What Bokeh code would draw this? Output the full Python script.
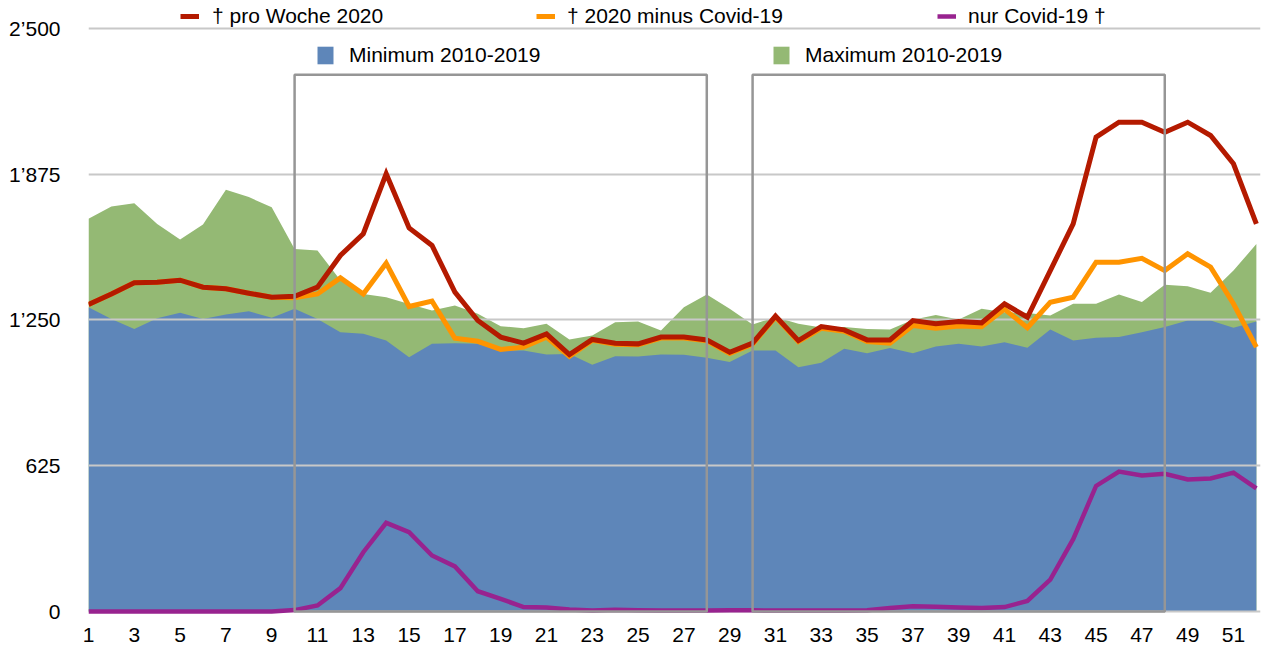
from bokeh.plotting import figure
from bokeh.models import Range1d, FixedTicker, Legend, LegendItem
from bokeh.embed import file_html
from bokeh.resources import INLINE

# ---------------- data ----------------
weeks = list(range(1, 53))
tick_weeks = list(range(1, 52, 2))

deaths_2020 = [1316, 1361, 1409, 1411, 1420, 1390, 1383, 1364, 1347, 1351,
               1390, 1526, 1619, 1876, 1644, 1569, 1369, 1247, 1176, 1150,
               1190, 1101, 1166, 1150, 1147, 1176, 1176, 1164, 1111, 1150,
               1266, 1161, 1221, 1207, 1164, 1164, 1247, 1233, 1243, 1237,
               1319, 1261, 1461, 1661, 2033, 2097, 2097, 2054, 2097, 2040,
               1919, 1661]

deaths_minus_covid = [1316, 1361, 1409, 1411, 1420, 1390, 1383, 1364, 1347, 1345,
                      1361, 1430, 1361, 1493, 1307, 1330, 1171, 1158, 1123, 1133,
                      1176, 1094, 1162, 1145, 1143, 1172, 1172, 1160, 1106, 1146,
                      1262, 1157, 1214, 1201, 1157, 1150, 1226, 1214, 1224, 1221,
                      1296, 1216, 1325, 1347, 1497, 1497, 1514, 1461, 1533, 1476,
                      1319, 1133]

covid_only = [0, 0, 0, 0, 0, 0, 0, 0, 0, 6,
              26, 100, 254, 380, 340, 240, 193, 87, 54, 19,
              17, 9, 4, 7, 5, 4, 4, 4, 5, 5,
              4, 4, 4, 4, 5, 15, 22, 20, 17, 15,
              19, 45, 137, 310, 538, 600, 583, 590, 566, 570,
              595, 528]

min_2010_2019 = [1304, 1254, 1211, 1257, 1280, 1254, 1273, 1287, 1259, 1297,
                 1254, 1197, 1190, 1161, 1090, 1147, 1150, 1147, 1119, 1119,
                 1101, 1104, 1057, 1094, 1093, 1101, 1100, 1087, 1069, 1119,
                 1119, 1047, 1066, 1126, 1107, 1129, 1107, 1136, 1147, 1136,
                 1154, 1130, 1209, 1161, 1173, 1176, 1197, 1219, 1247, 1247,
                 1216, 1243]

max_2010_2019 = [1683, 1736, 1750, 1661, 1594, 1659, 1807, 1776, 1733, 1554,
                 1547, 1420, 1361, 1347, 1318, 1290, 1311, 1276, 1223, 1214,
                 1233, 1166, 1183, 1240, 1243, 1204, 1304, 1359, 1297, 1230,
                 1262, 1233, 1217, 1219, 1211, 1209, 1250, 1271, 1251, 1297,
                 1283, 1279, 1269, 1319, 1319, 1359, 1326, 1400, 1394, 1366,
                 1461, 1575]

y_ticks = [0, 625, 1250, 1875, 2500]
y_tick_labels = ["0", "625", "1\u2019250", "1\u2019875", "2\u2019500"]

box_start = [10, 30]
box_end = [28, 48]
box_top = [2300, 2300]

# ---------------- style ----------------
FONT = "Liberation Sans"
BLUE = "#5E86B9"
GREEN = "#94B974"
RED = "#B41A00"
ORANGE = "#FF9400"
PURPLE = "#98238F"
GRID = "#C8C8C8"
BOX = "#969696"

p = figure(width=1261, height=647, output_backend="svg", toolbar_location=None,
           x_range=Range1d(1, 52.18), y_range=Range1d(-12.86, 2618.6),
           min_border_left=88, min_border_right=1, min_border_top=0,
           min_border_bottom=33)
p.outline_line_color = None
p.xgrid.visible = False
p.ygrid.visible = False

area_max = p.varea(x=weeks, y1=0, y2=max_2010_2019, fill_color=GREEN)
area_min = p.varea(x=weeks, y1=0, y2=min_2010_2019, fill_color=BLUE)

p.hspan(y=y_ticks, line_color=GRID, line_width=2)

l_minus = p.line(weeks, deaths_minus_covid, line_color=ORANGE, line_width=5, line_join="miter")
l_2020 = p.line(weeks, deaths_2020, line_color=RED, line_width=5, line_join="miter")
l_covid = p.line(weeks, covid_only, line_color=PURPLE, line_width=4.5, line_join="miter")

p.quad(left=box_start, right=box_end, bottom=0, top=box_top,
       fill_alpha=0, line_color=BOX, line_width=2.5)

# axes
p.xaxis.ticker = FixedTicker(ticks=tick_weeks)
p.yaxis.ticker = FixedTicker(ticks=y_ticks)
p.yaxis.major_label_overrides = dict(zip(y_ticks, y_tick_labels))
for ax in (p.xaxis[0], p.yaxis[0]):
    ax.axis_line_color = None
    ax.major_tick_line_color = None
    ax.minor_tick_line_color = None
    ax.major_tick_out = 0
    ax.major_tick_in = 0
    ax.major_label_text_font = FONT
    ax.major_label_text_font_size = "21px"
    ax.major_label_text_color = "black"
p.xaxis.major_label_standoff = 13
p.yaxis.major_label_standoff = 28


def add_legend(renderer, label, vx, vy, gw, gh, standoff):
    leg = Legend(items=[LegendItem(label=label, renderers=[renderer])],
                 location=(vx, vy), orientation="horizontal",
                 margin=0, padding=0, spacing=0,
                 glyph_width=gw, glyph_height=gh, label_height=gh,
                 label_standoff=standoff,
                 label_text_font=FONT, label_text_font_size="21px",
                 label_text_color="black",
                 border_line_color=None, background_fill_alpha=0)
    p.add_layout(leg)


add_legend(l_2020, "\u2020 pro Woche 2020", 92, 586, 19, 22, 13)
add_legend(l_minus, "\u2020 2020 minus Covid-19", 448, 586, 19, 22, 12)
add_legend(l_covid, "nur Covid-19 \u2020", 849, 586, 19, 22, 12)
add_legend(area_min, "Minimum 2010-2019", 227, 547, 20, 22, 14)
add_legend(area_max, "Maximum 2010-2019", 683, 547, 20, 22, 14)

open("out.html", "w").write(file_html(p, INLINE))
